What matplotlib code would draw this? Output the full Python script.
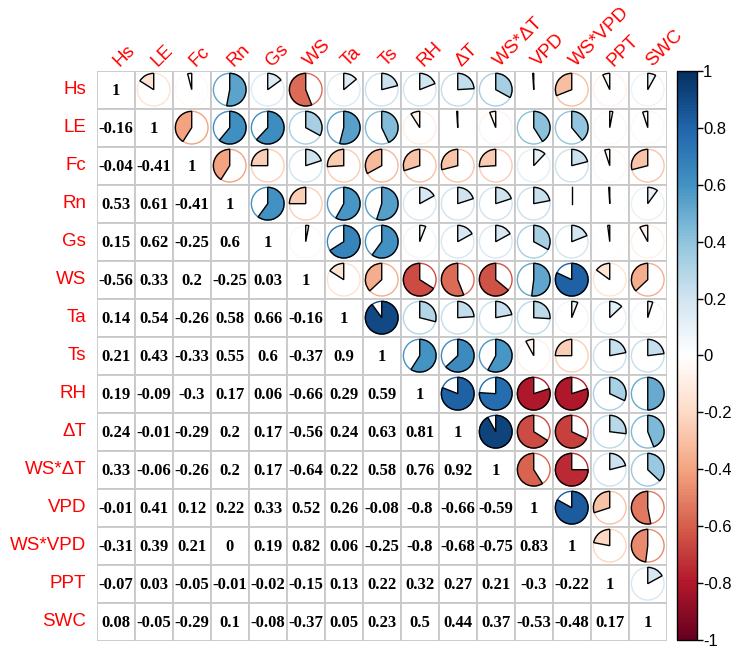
import numpy as np
import matplotlib
matplotlib.use("Agg")
import matplotlib.pyplot as plt
from matplotlib.patches import Wedge, Circle, Rectangle
from matplotlib.colors import LinearSegmentedColormap, Normalize
import matplotlib.colorbar as mcolorbar

plt.rcParams["axes.unicode_minus"] = False

variables = ["Hs", "LE", "Fc", "Rn", "Gs", "WS", "Ta", "Ts", "RH", "ΔT",
             "WS*ΔT", "VPD", "WS*VPD", "PPT", "SWC"]

# lower triangle of the correlation matrix, row by row
lower_rows = [
    [],
    [-0.16],
    [-0.04, -0.41],
    [0.53, 0.61, -0.41],
    [0.15, 0.62, -0.25, 0.6],
    [-0.56, 0.33, 0.2, -0.25, 0.03],
    [0.14, 0.54, -0.26, 0.58, 0.66, -0.16],
    [0.21, 0.43, -0.33, 0.55, 0.6, -0.37, 0.9],
    [0.19, -0.09, -0.3, 0.17, 0.06, -0.66, 0.29, 0.59],
    [0.24, -0.01, -0.29, 0.2, 0.17, -0.56, 0.24, 0.63, 0.81],
    [0.33, -0.06, -0.26, 0.2, 0.17, -0.64, 0.22, 0.58, 0.76, 0.92],
    [-0.01, 0.41, 0.12, 0.22, 0.33, 0.52, 0.26, -0.08, -0.8, -0.66, -0.59],
    [-0.31, 0.39, 0.21, 0, 0.19, 0.82, 0.06, -0.25, -0.8, -0.68, -0.75, 0.83],
    [-0.07, 0.03, -0.05, -0.01, -0.02, -0.15, 0.13, 0.22, 0.32, 0.27, 0.21, -0.3, -0.22],
    [0.08, -0.05, -0.29, 0.1, -0.08, -0.37, 0.05, 0.23, 0.5, 0.44, 0.37, -0.53, -0.48, 0.17],
]

n = len(variables)
corr = np.eye(n)
for i, row in enumerate(lower_rows):
    for j, v in enumerate(row):
        corr[i, j] = v
        corr[j, i] = v

# corrplot RdBu palette
rdbu = ["#67001F", "#B2182B", "#D6604D", "#F4A582", "#FDDBC7", "#FFFFFF",
        "#D1E5F0", "#92C5DE", "#4393C3", "#2166AC", "#053061"]
cmap = LinearSegmentedColormap.from_list("corr_rdbu", rdbu, N=200)
norm = Normalize(vmin=-1, vmax=1)

fig = plt.figure(figsize=(7.31, 6.5), dpi=100)
ax = fig.add_axes([0.1323, 0.0143, 0.7798, 0.877])
ax.set_xlim(0, n)
ax.set_ylim(n, 0)
ax.set_aspect("equal")
ax.axis("off")

num_font = dict(family="Liberation Serif", weight="bold", fontsize=12)
radius = 0.43

for i in range(n):
    for j in range(n):
        cx, cy = j + 0.5, i + 0.5
        ax.add_patch(Rectangle((j, i), 1, 1, facecolor="white",
                               edgecolor="#c8c8c8", lw=1.3, zorder=1))
        r = corr[i, j]
        if j <= i:
            txt = "1" if i == j else ("0" if r == 0 else f"{r:g}")
            ax.text(cx, cy + 0.04, txt, ha="center", va="center", color="black",
                    zorder=3, **num_font)
        else:
            col = cmap(norm(r))
            ax.add_patch(Circle((cx, cy), radius, facecolor="none", edgecolor=col,
                                lw=1.0, zorder=2))
            # y axis is inverted, so angles are mirrored: clockwise for positive
            if r > 0:
                t1, t2 = 270, 270 + 360 * r
            else:
                t1, t2 = 270 - 360 * abs(r), 270
            if r == 0:
                ax.plot([cx, cx], [cy, cy - radius], color="black", lw=1.0, zorder=3)
            else:
                ax.add_patch(Wedge((cx, cy), radius, t1, t2, facecolor=col,
                                   edgecolor="black", lw=1.0, zorder=3))

label_font = dict(family="Liberation Sans", fontsize=13.5, color="#FF0000")
for k, name in enumerate(variables):
    ax.text(-0.28, k + 0.5, name, ha="right", va="center", **label_font)
    ax.text(k + 0.68, -0.03, name, ha="left", va="bottom", rotation=45,
            rotation_mode="anchor", zorder=5, **label_font)

# colour key
cax = fig.add_axes([0.926, 0.0154, 0.0274, 0.8754])
cb = mcolorbar.ColorbarBase(cax, cmap=cmap, norm=norm, orientation="vertical")
ticks = [1, 0.8, 0.6, 0.4, 0.2, 0, -0.2, -0.4, -0.6, -0.8, -1]
cb.set_ticks(ticks)
cb.set_ticklabels([f"{t:g}" for t in ticks])
cb.outline.set_linewidth(1.0)
cax.tick_params(labelsize=12, length=4, width=1, pad=0.5)
for lab in cax.get_yticklabels():
    lab.set_family("Liberation Sans")

fig.savefig("out.png", dpi=100)
